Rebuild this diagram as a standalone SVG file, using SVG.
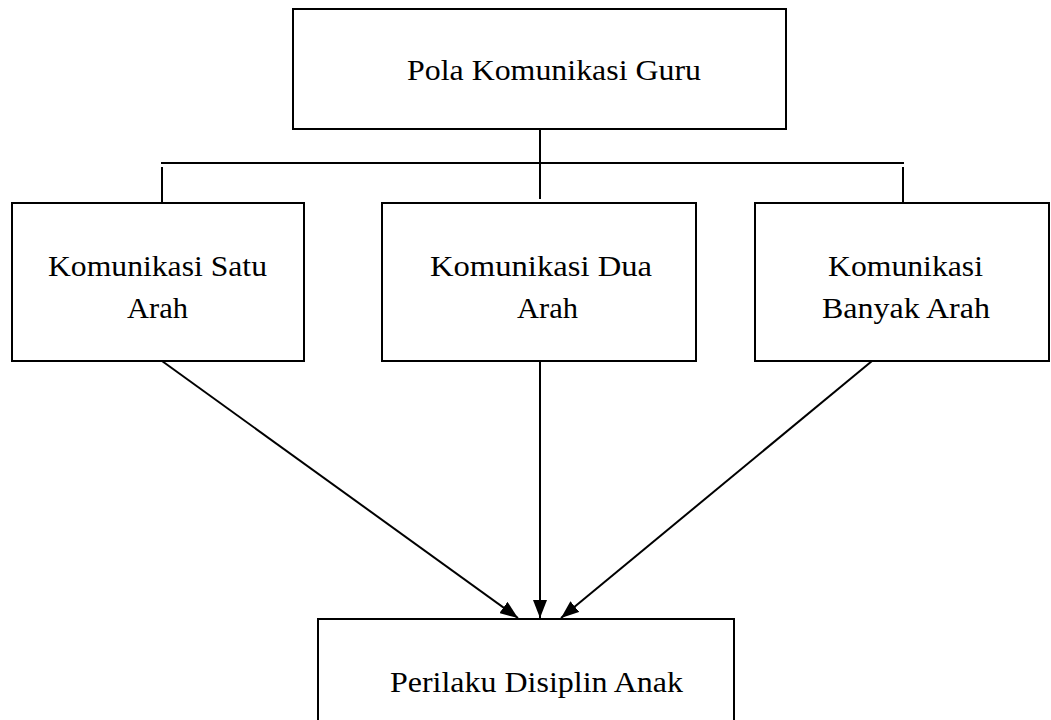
<svg xmlns="http://www.w3.org/2000/svg" width="1051" height="720" viewBox="0 0 1051 720">
<style>
.box{fill:#fff;stroke:#000;stroke-width:2}
.ln{stroke:#000;stroke-width:2;fill:none}
.t{font-family:"Liberation Serif","Times New Roman",serif;font-size:29px;fill:#000}
</style>
<defs>
<marker id="ah" markerWidth="18" markerHeight="14" refX="18" refY="7" orient="auto" markerUnits="userSpaceOnUse" viewBox="0 0 18 14">
<path d="M0,0 L18,7 L0,14 Z" fill="#000"/>
</marker>
</defs>
<rect width="1051" height="720" fill="#fff"/>
<g id="connectors">
<line class="ln" x1="540" y1="129" x2="540" y2="199"/>
<line class="ln" x1="161" y1="163" x2="904" y2="163"/>
<line class="ln" x1="162" y1="167" x2="162" y2="203"/>
<line class="ln" x1="903" y1="167" x2="903" y2="203"/>
<line class="ln" x1="162" y1="361" x2="518" y2="618" marker-end="url(#ah)"/>
<line class="ln" x1="540" y1="361" x2="540" y2="618" marker-end="url(#ah)"/>
<line class="ln" x1="872" y1="361" x2="561" y2="618" marker-end="url(#ah)"/>
</g>
<g id="pola">
<rect class="box" x="293" y="9" width="493" height="120"/>
<text class="t" x="407" y="80" textLength="294" lengthAdjust="spacingAndGlyphs">Pola Komunikasi Guru</text>
</g>
<g id="satu">
<rect class="box" x="12" y="203" width="292" height="158"/>
<text class="t" x="48" y="276" textLength="219" lengthAdjust="spacingAndGlyphs">Komunikasi Satu</text>
<text class="t" x="127" y="318" textLength="61" lengthAdjust="spacingAndGlyphs">Arah</text>
</g>
<g id="dua">
<rect class="box" x="382" y="203" width="314" height="158"/>
<text class="t" x="430" y="276" textLength="222" lengthAdjust="spacingAndGlyphs">Komunikasi Dua</text>
<text class="t" x="517" y="318" textLength="61" lengthAdjust="spacingAndGlyphs">Arah</text>
</g>
<g id="banyak">
<rect class="box" x="755" y="203" width="294" height="158"/>
<text class="t" x="828" y="276" textLength="155" lengthAdjust="spacingAndGlyphs">Komunikasi</text>
<text class="t" x="822" y="318" textLength="168" lengthAdjust="spacingAndGlyphs">Banyak Arah</text>
</g>
<g id="perilaku">
<rect class="box" x="318" y="619" width="416" height="120"/>
<text class="t" x="390" y="692" textLength="293" lengthAdjust="spacingAndGlyphs">Perilaku Disiplin Anak</text>
</g>
</svg>
